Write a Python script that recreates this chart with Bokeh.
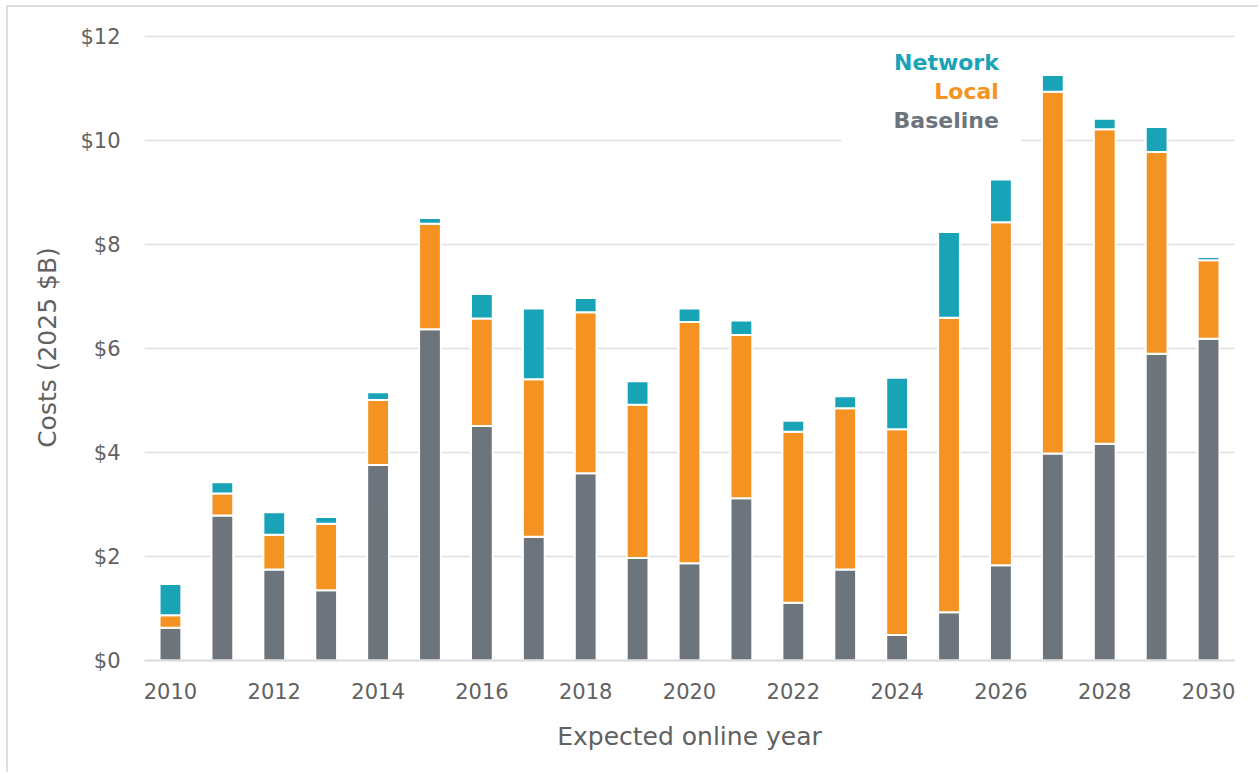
from bokeh.plotting import figure
from bokeh.models import ColumnDataSource, Range1d, Label, BoxAnnotation, FixedTicker
from bokeh.embed import file_html
from bokeh.resources import INLINE

years = [2010, 2011, 2012, 2013, 2014, 2015, 2016, 2017, 2018, 2019, 2020,
         2021, 2022, 2023, 2024, 2025, 2026, 2027, 2028, 2029, 2030]
baseline = [0.63, 2.79, 1.75, 1.35, 3.76, 6.37, 4.51, 2.38, 3.60, 1.97, 1.87,
            3.12, 1.11, 1.75, 0.49, 0.93, 1.83, 3.98, 4.17, 5.90, 6.19]
local = [0.24, 0.42, 0.67, 1.28, 1.25, 2.03, 2.07, 3.03, 3.10, 2.95, 4.64,
         3.14, 3.29, 3.10, 3.96, 5.66, 6.60, 6.96, 6.05, 3.88, 1.51]
network = [0.60, 0.22, 0.43, 0.13, 0.15, 0.11, 0.47, 1.36, 0.27, 0.45, 0.26,
           0.28, 0.21, 0.23, 0.99, 1.65, 0.82, 0.32, 0.20, 0.48, 0.06]
series_names = ["Network", "Local", "Baseline"]
series_colors = ["#18a3b7", "#f59322", "#6d747c"]
x_ticks = [2010, 2012, 2014, 2016, 2018, 2020, 2022, 2024, 2026, 2028, 2030]
y_ticks = [0, 2, 4, 6, 8, 10, 12]
y_tick_labels = ["$0", "$2", "$4", "$6", "$8", "$10", "$12"]

FONT = "DejaVu Sans"
TXT = "#616161"

src = ColumnDataSource(dict(year=years, baseline=baseline, local=local, network=network))

p = figure(width=1252, height=767, output_backend="svg", toolbar_location=None,
           x_range=Range1d(2009.5, 2030.5), y_range=Range1d(0, 12.04),
           min_border_left=136, min_border_right=26, min_border_top=27,
           min_border_bottom=114, background_fill_color="white",
           border_fill_color="white", outline_line_color=None)
p.styles = {"margin-left": "6px", "margin-top": "5px",
            "border-left": "2px solid #dedede", "border-top": "2px solid #dedede"}

p.vbar_stack(["baseline", "local", "network"], x="year", width=0.42, source=src,
             color=[series_colors[2], series_colors[1], series_colors[0]],
             line_color="white", line_width=2)

p.xgrid.grid_line_color = None
p.ygrid.grid_line_color = "#dedede"
p.ygrid.grid_line_width = 1.6
p.ygrid.ticker = FixedTicker(ticks=y_ticks)

p.xaxis.ticker = FixedTicker(ticks=x_ticks)
p.yaxis.ticker = FixedTicker(ticks=y_ticks)
p.yaxis.major_label_overrides = {t: l for t, l in zip(y_ticks, y_tick_labels)}
p.xaxis.major_label_overrides = {t: str(t) for t in x_ticks}

for ax in (p.xaxis[0], p.yaxis[0]):
    ax.major_tick_line_color = None
    ax.minor_tick_line_color = None
    ax.major_label_text_font = FONT
    ax.major_label_text_font_size = "21px"
    ax.major_label_text_color = TXT
    ax.axis_label_text_font = FONT
    ax.axis_label_text_font_size = "25px"
    ax.axis_label_text_font_style = "normal"
    ax.axis_label_text_color = TXT

p.yaxis.axis_line_color = None
p.yaxis.major_label_standoff = 18
p.yaxis.axis_label = "Costs (2025 $B)"
p.yaxis.axis_label_standoff = 15
p.xaxis.axis_line_color = "#dadada"
p.xaxis.axis_line_width = 2
p.xaxis.major_label_standoff = 16
p.xaxis.axis_label = "Expected online year"
p.xaxis.axis_label_standoff = 20

# white panel behind the legend text
p.add_layout(BoxAnnotation(left=2022.93, right=2026.39, bottom=9.96, top=11.7,
                           fill_color="white", fill_alpha=1.0, line_color=None,
                           level="underlay"))
label_y = [11.50, 10.94, 10.38]
for name, col, ly in zip(series_names, series_colors, label_y):
    p.add_layout(Label(x=2025.96, y=ly, text=name, text_align="right",
                       text_baseline="middle", text_font=FONT,
                       text_font_style="bold", text_font_size="22px",
                       text_color=col))

open("out.html", "w").write(file_html(p, INLINE))
